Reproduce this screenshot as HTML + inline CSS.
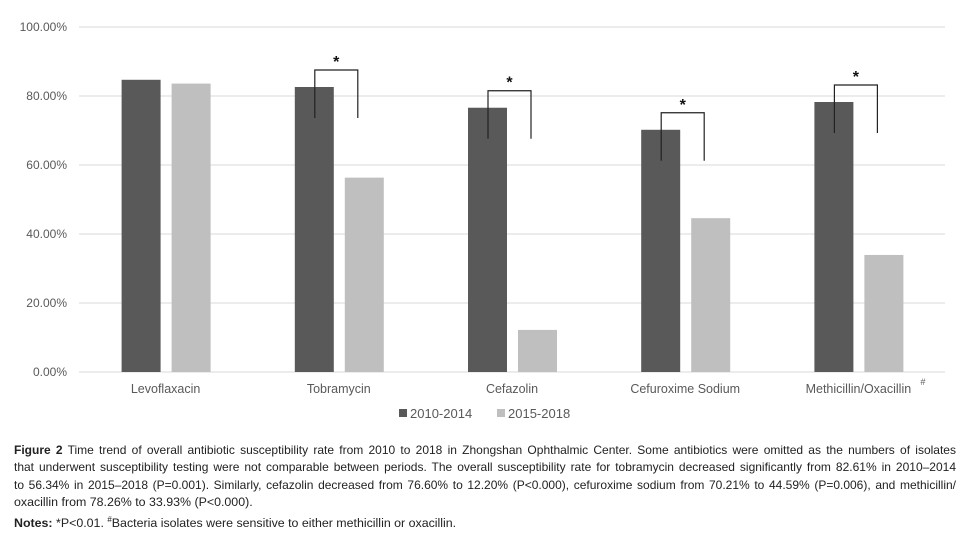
<!DOCTYPE html>
<html><head><meta charset="utf-8"><style>
body{margin:0;background:#fff;width:975px;height:542px;overflow:hidden;font-family:"Liberation Sans",sans-serif;position:relative}
#cap{position:absolute;left:14px;top:442px;width:942px;font-size:12px;line-height:17.3px;color:#222}
#cap .j{display:block;text-align:justify;text-align-last:justify;white-space:nowrap}
#cap .l{display:block;white-space:nowrap}
</style></head><body>
<svg id="chart" width="975" height="435" style="position:absolute;left:0;top:0" font-family="Liberation Sans, sans-serif"></svg>
<div id="cap">
<span class="j"><b>Figure 2</b> Time trend of overall antibiotic susceptibility rate from 2010 to 2018 in Zhongshan Ophthalmic Center. Some antibiotics were omitted as the numbers of isolates</span>
<span class="j">that underwent susceptibility testing were not comparable between periods. The overall susceptibility rate for tobramycin decreased significantly from 82.61% in 2010–2014</span>
<span class="j">to 56.34% in 2015–2018 (P=0.001). Similarly, cefazolin decreased from 76.60% to 12.20% (P&lt;0.000), cefuroxime sodium from 70.21% to 44.59% (P=0.006), and methicillin/</span>
<span class="l" style="font-size:12.4px">oxacillin from 78.26% to 33.93% (P&lt;0.000).</span>
<span class="l" style="font-size:12.4px"><b>Notes:</b> *P&lt;0.01. <sup style="font-size:8px">#</sup>Bacteria isolates were sensitive to either methicillin or oxacillin.</span>
</div>
<script>
const categories=["Levoflaxacin","Tobramycin","Cefazolin","Cefuroxime Sodium","Methicillin/Oxacillin"];
const series2010=[84.7,82.61,76.60,70.21,78.26];
const series2015=[83.6,56.34,12.20,44.59,33.93];
const significant=[false,true,true,true,true];
const ticks=[0,20,40,60,80,100];
const svg=document.getElementById('chart');
const NS='http://www.w3.org/2000/svg';
const x0=79,x1=945,yb=372,yt=27;
const y=v=>yb-(v/100)*(yb-yt);
const bw=(x1-x0)/categories.length;
function mk(t,a){const e=document.createElementNS(NS,t);for(const k in a)e.setAttribute(k,a[k]);svg.appendChild(e);return e;}
ticks.forEach(t=>{
 const l=mk('line',{x1:x0,x2:x1,y1:y(t),y2:y(t),stroke:'#d9d9d9','stroke-width':1});
 
 
 const tx=mk('text',{x:67,y:y(t)+4,'text-anchor':'end','font-size':12,fill:'#595959'});
 tx.textContent=t.toFixed(2)+'%';
 
 
});
categories.forEach((c,i)=>{
 const cx=x0+bw*(i+0.5);
 const b1=mk('rect',{x:cx-44,y:y(series2010[i]),width:39,height:yb-y(series2010[i]),fill:'#595959'});
 
 
 const b2=mk('rect',{x:cx+6,y:y(series2015[i]),width:39,height:yb-y(series2015[i]),fill:'#bfbfbf'});
 
 
 const tx=mk('text',{x:cx,y:393,'text-anchor':'middle','font-size':12.5,fill:'#595959'});
 tx.textContent=c;
 
 
 if(i===4){const s=mk('text',{x:cx+62,y:385,'font-size':9,fill:'#595959'});s.textContent='#';
  
  }
 if(significant[i]){
  const lx=cx-24,rx=cx+19,top=y(series2010[i])-17,bot=top+48;
  const p=mk('path',{d:`M${lx},${bot}V${top}H${rx}V${bot}`,fill:'none',stroke:'#222','stroke-width':1.2});
  
  
  const st=mk('text',{x:(lx+rx)/2,y:top-3,'text-anchor':'middle','font-size':16,'font-weight':'bold',fill:'#111'});
  st.textContent='*';
  
  
 }
});
const legend=[["2010-2014","#595959",399],["2015-2018","#bfbfbf",497]];
legend.forEach(([n,col,lx])=>{
 const r=mk('rect',{x:lx,y:409,width:8,height:8,fill:col});
 
 
 const t=mk('text',{x:lx+11,y:418,'font-size':13,fill:'#595959'});t.textContent=n;
 
 
});
</script>
</body></html>
